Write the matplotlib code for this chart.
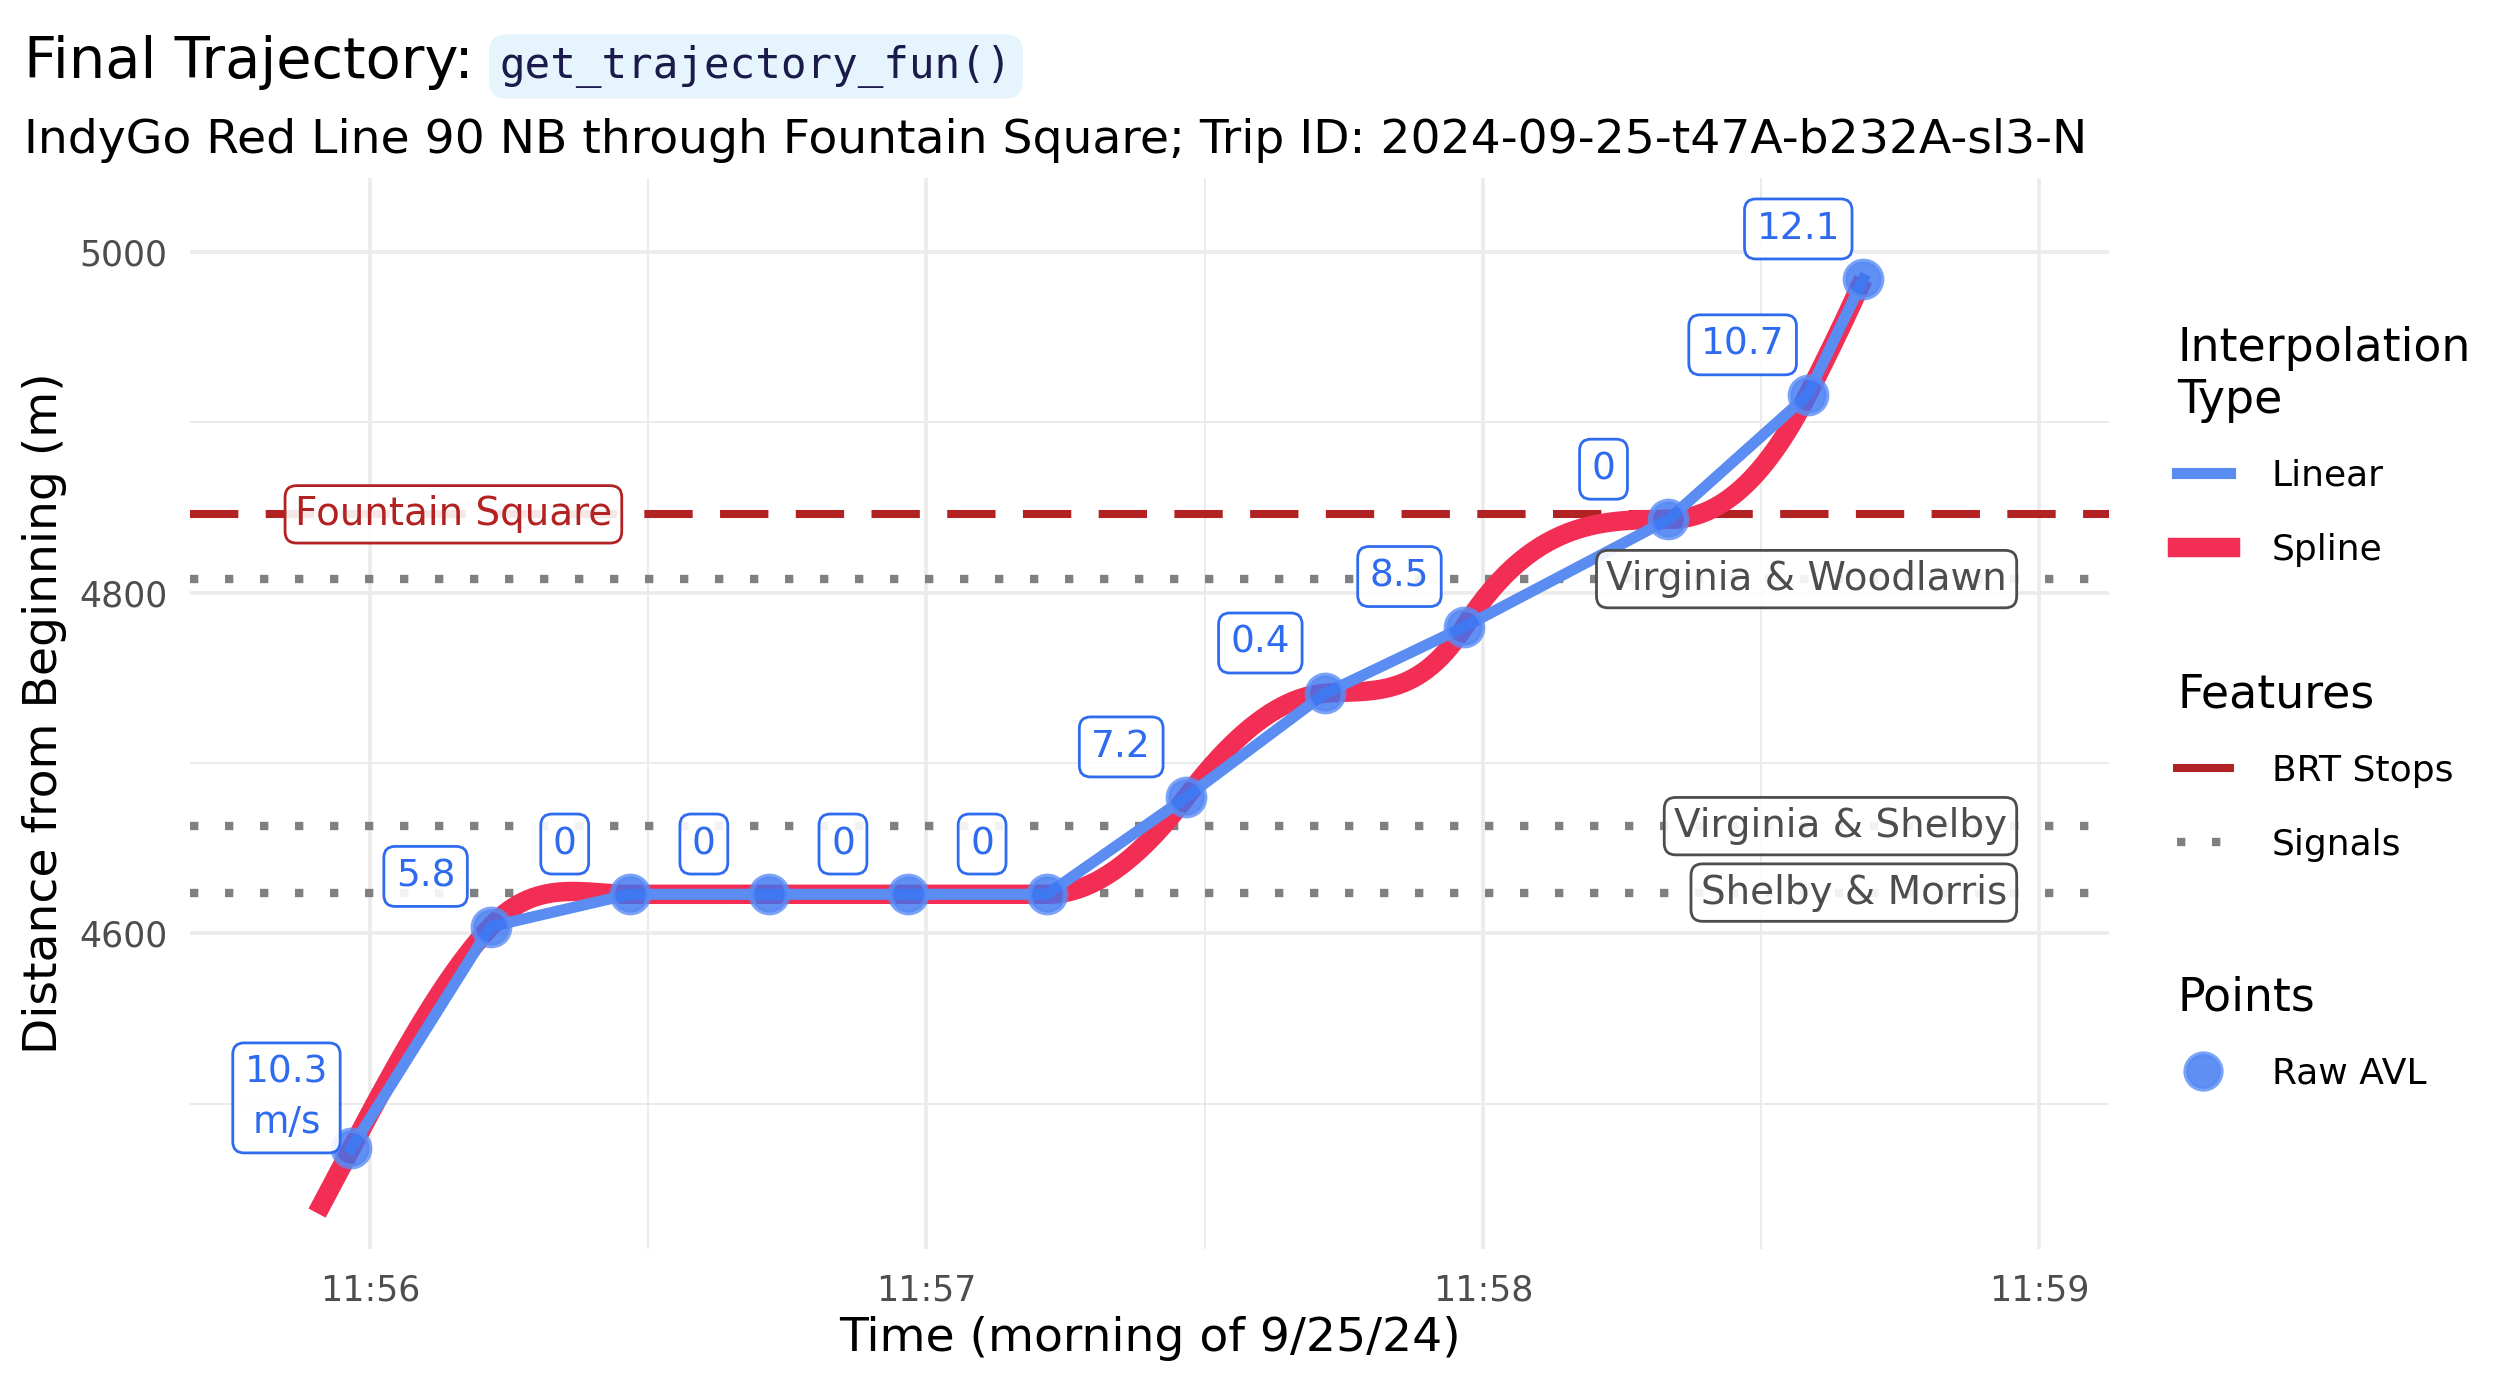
import matplotlib
matplotlib.use("Agg")
import matplotlib.pyplot as plt
from matplotlib.lines import Line2D
from matplotlib.ticker import FixedLocator, FuncFormatter
import numpy as np

# raw AVL pings (clock time, distance along route in m, speed in m/s)
avl_times = ["11:55:58", "11:56:13", "11:56:28", "11:56:43", "11:56:58", "11:57:13",
             "11:57:28", "11:57:43", "11:57:58", "11:58:20", "11:58:35", "11:58:41"]
avl_dist = [4474, 4604, 4623, 4623, 4623, 4623, 4680, 4741, 4780, 4843, 4916, 4984]
avl_speed = [10.3, 5.8, 0, 0, 0, 0, 7.2, 0.4, 8.5, 0, 10.7, 12.1]

brt_names = ["Fountain Square"]
brt_dist = [4846]
signal_names = ["Virginia & Woodlawn", "Virginia & Shelby", "Shelby & Morris"]
signal_dist = [4808, 4663, 4624]

tick_labels = ["11:56", "11:57", "11:58", "11:59"]

BLUE_LINE = "#5B8CF2"
RED = "#F22E55"
PT_BLUE = "#3A74F2"
LBL_BLUE = "#2F6BEF"
BRT = "#B22222"
SIG = "#808080"


def to_sec(s):
    h, m, sec = [int(v) for v in s.split(":")]
    return (h * 3600 + m * 60 + sec) - (11 * 3600 + 56 * 60)


t = np.array([to_sec(s) for s in avl_times], dtype=float)
d = np.array(avl_dist, dtype=float)
v = np.array(avl_speed, dtype=float)
ticks = np.array([to_sec(s + ":00") for s in tick_labels], dtype=float)

# cubic hermite spline using the reported speeds as slopes
sx, sy = [], []
pre = np.linspace(t[0] - 3.7, t[0], 10)
sx.extend(pre)
sy.extend(d[0] + v[0] * (pre - t[0]))
for i in range(len(t) - 1):
    h = t[i + 1] - t[i]
    u = np.linspace(0, 1, 60)
    h00 = 2 * u**3 - 3 * u**2 + 1
    h10 = u**3 - 2 * u**2 + u
    h01 = -2 * u**3 + 3 * u**2
    h11 = u**3 - u**2
    sx.extend(t[i] + u * h)
    sy.extend(h00 * d[i] + h10 * h * v[i] + h01 * d[i + 1] + h11 * h * v[i + 1])

plt.rcParams["font.family"] = ["DejaVu Sans"]
fig = plt.figure(figsize=(12.6, 6.9), dpi=200)
ax = fig.add_axes([0.0754, 0.0949, 0.7615, 0.7761])

ax.set_xlim(-19.4, 187.5)
ax.set_ylim(4414.8, 5043.4)

ax.xaxis.set_major_locator(FixedLocator(ticks))
ax.xaxis.set_minor_locator(FixedLocator(ticks[:-1] + 30))
ax.xaxis.set_major_formatter(FuncFormatter(lambda x, p: tick_labels[int(round(x / 60))]))
ax.yaxis.set_major_locator(FixedLocator([4600, 4800, 5000]))
ax.yaxis.set_minor_locator(FixedLocator([4500, 4700, 4900]))
ax.grid(which="major", color="#EBEBEB", lw=1.3)
ax.grid(which="minor", color="#EBEBEB", lw=0.7)
ax.set_axisbelow(True)
for s in ax.spines.values():
    s.set_visible(False)
ax.tick_params(which="both", length=0, labelsize=12.5, labelcolor="#4D4D4D")
ax.tick_params(axis="x", pad=8.8)
ax.tick_params(axis="y", pad=8)

for y in signal_dist:
    ax.axhline(y, color=SIG, lw=3.0, dashes=(1, 3.2), zorder=1)
for y in brt_dist:
    ax.axhline(y, color=BRT, lw=2.9, dashes=(6, 3.4), zorder=1)

ax.plot(sx, sy, color=RED, lw=7, solid_capstyle="butt", zorder=2)
ax.plot(t, d, color=BLUE_LINE, lw=4, zorder=3)
ax.scatter(t, d, s=170, color=PT_BLUE, alpha=0.8, edgecolors="#5A8CF5", linewidths=2, zorder=4)

for i in range(len(t)):
    lab = f"{v[i]:g}"
    if i == 0:
        lab = lab + "\nm/s"
    ax.text(t[i] - 7, d[i] + 29.5, lab, ha="center", va="center", fontsize=13.5,
            color=LBL_BLUE, zorder=5, linespacing=1.5,
            bbox=dict(boxstyle="round,pad=0.32,rounding_size=0.3", fc=(1, 1, 1, 0.9),
                      ec=LBL_BLUE, lw=1))

for name, y in zip(brt_names, brt_dist):
    ax.text(9, y, name, ha="center", va="center", fontsize=14, color=BRT, zorder=5,
            bbox=dict(boxstyle="round,pad=0.25,rounding_size=0.3", fc=(1, 1, 1, 0.9),
                      ec=BRT, lw=1))
for name, y in zip(signal_names, signal_dist):
    ax.text(176.5, y, name, ha="right", va="center", fontsize=14, color="#4D4D4D", zorder=5,
            bbox=dict(boxstyle="round,pad=0.25,rounding_size=0.3", fc=(1, 1, 1, 0.9),
                      ec="#4D4D4D", lw=1))

ax.set_xlabel("Time (morning of 9/25/24)", fontsize=17, labelpad=3)
ax.set_ylabel("Distance from Beginning (m)", fontsize=17, labelpad=4.5)

# title with inline code chip
ttl = fig.text(0.0095, 0.9435, "Final Trajectory:", fontsize=20.7, va="baseline")
fig.canvas.draw()
bb = ttl.get_window_extent()
x_code = (bb.x1 + 26) / fig.bbox.width
fig.text(x_code, 0.9435, "get_trajectory_fun()", fontsize=15.3, va="baseline",
         family="DejaVu Sans Mono", color="#1B1B4B",
         bbox=dict(boxstyle="round,pad=0.25,rounding_size=0.4", fc="#E6F4FD", ec="none"))
fig.text(0.0095, 0.889,
         "IndyGo Red Line 90 NB through Fountain Square; Trip ID: 2024-09-25-t47A-b232A-sl3-N",
         fontsize=17, va="baseline")

# legends
h_interp = [Line2D([], [], color=BLUE_LINE, lw=4), Line2D([], [], color=RED, lw=7)]
h_feat = [Line2D([], [], color=BRT, lw=2.9), Line2D([], [], color=SIG, lw=3.0, dashes=(1, 3.2))]
h_pts = [Line2D([], [], ls="none", marker="o", markersize=12.5, color=PT_BLUE, alpha=0.8,
                markeredgecolor="#5A8CF5", markeredgewidth=2)]

common = dict(frameon=False, loc="upper left", alignment="left", fontsize=13,
              title_fontsize=16.5, handlelength=1.46, handletextpad=1.16, labelspacing=1.1)
l1 = fig.legend(h_interp, ["Linear", "Spline"], title="Interpolation\nType",
                bbox_to_anchor=(0.851, 0.7875), **common)
l2 = fig.legend(h_feat, ["BRT Stops", "Signals"], title="Features",
                bbox_to_anchor=(0.851, 0.5359), **common)
l3 = fig.legend(h_pts, ["Raw AVL"], title="Points",
                bbox_to_anchor=(0.851, 0.3167), **common)
for lg in (l1, l2, l3):
    lg._legend_box.sep = 13

fig.savefig("out.png", dpi=200, facecolor="white")
